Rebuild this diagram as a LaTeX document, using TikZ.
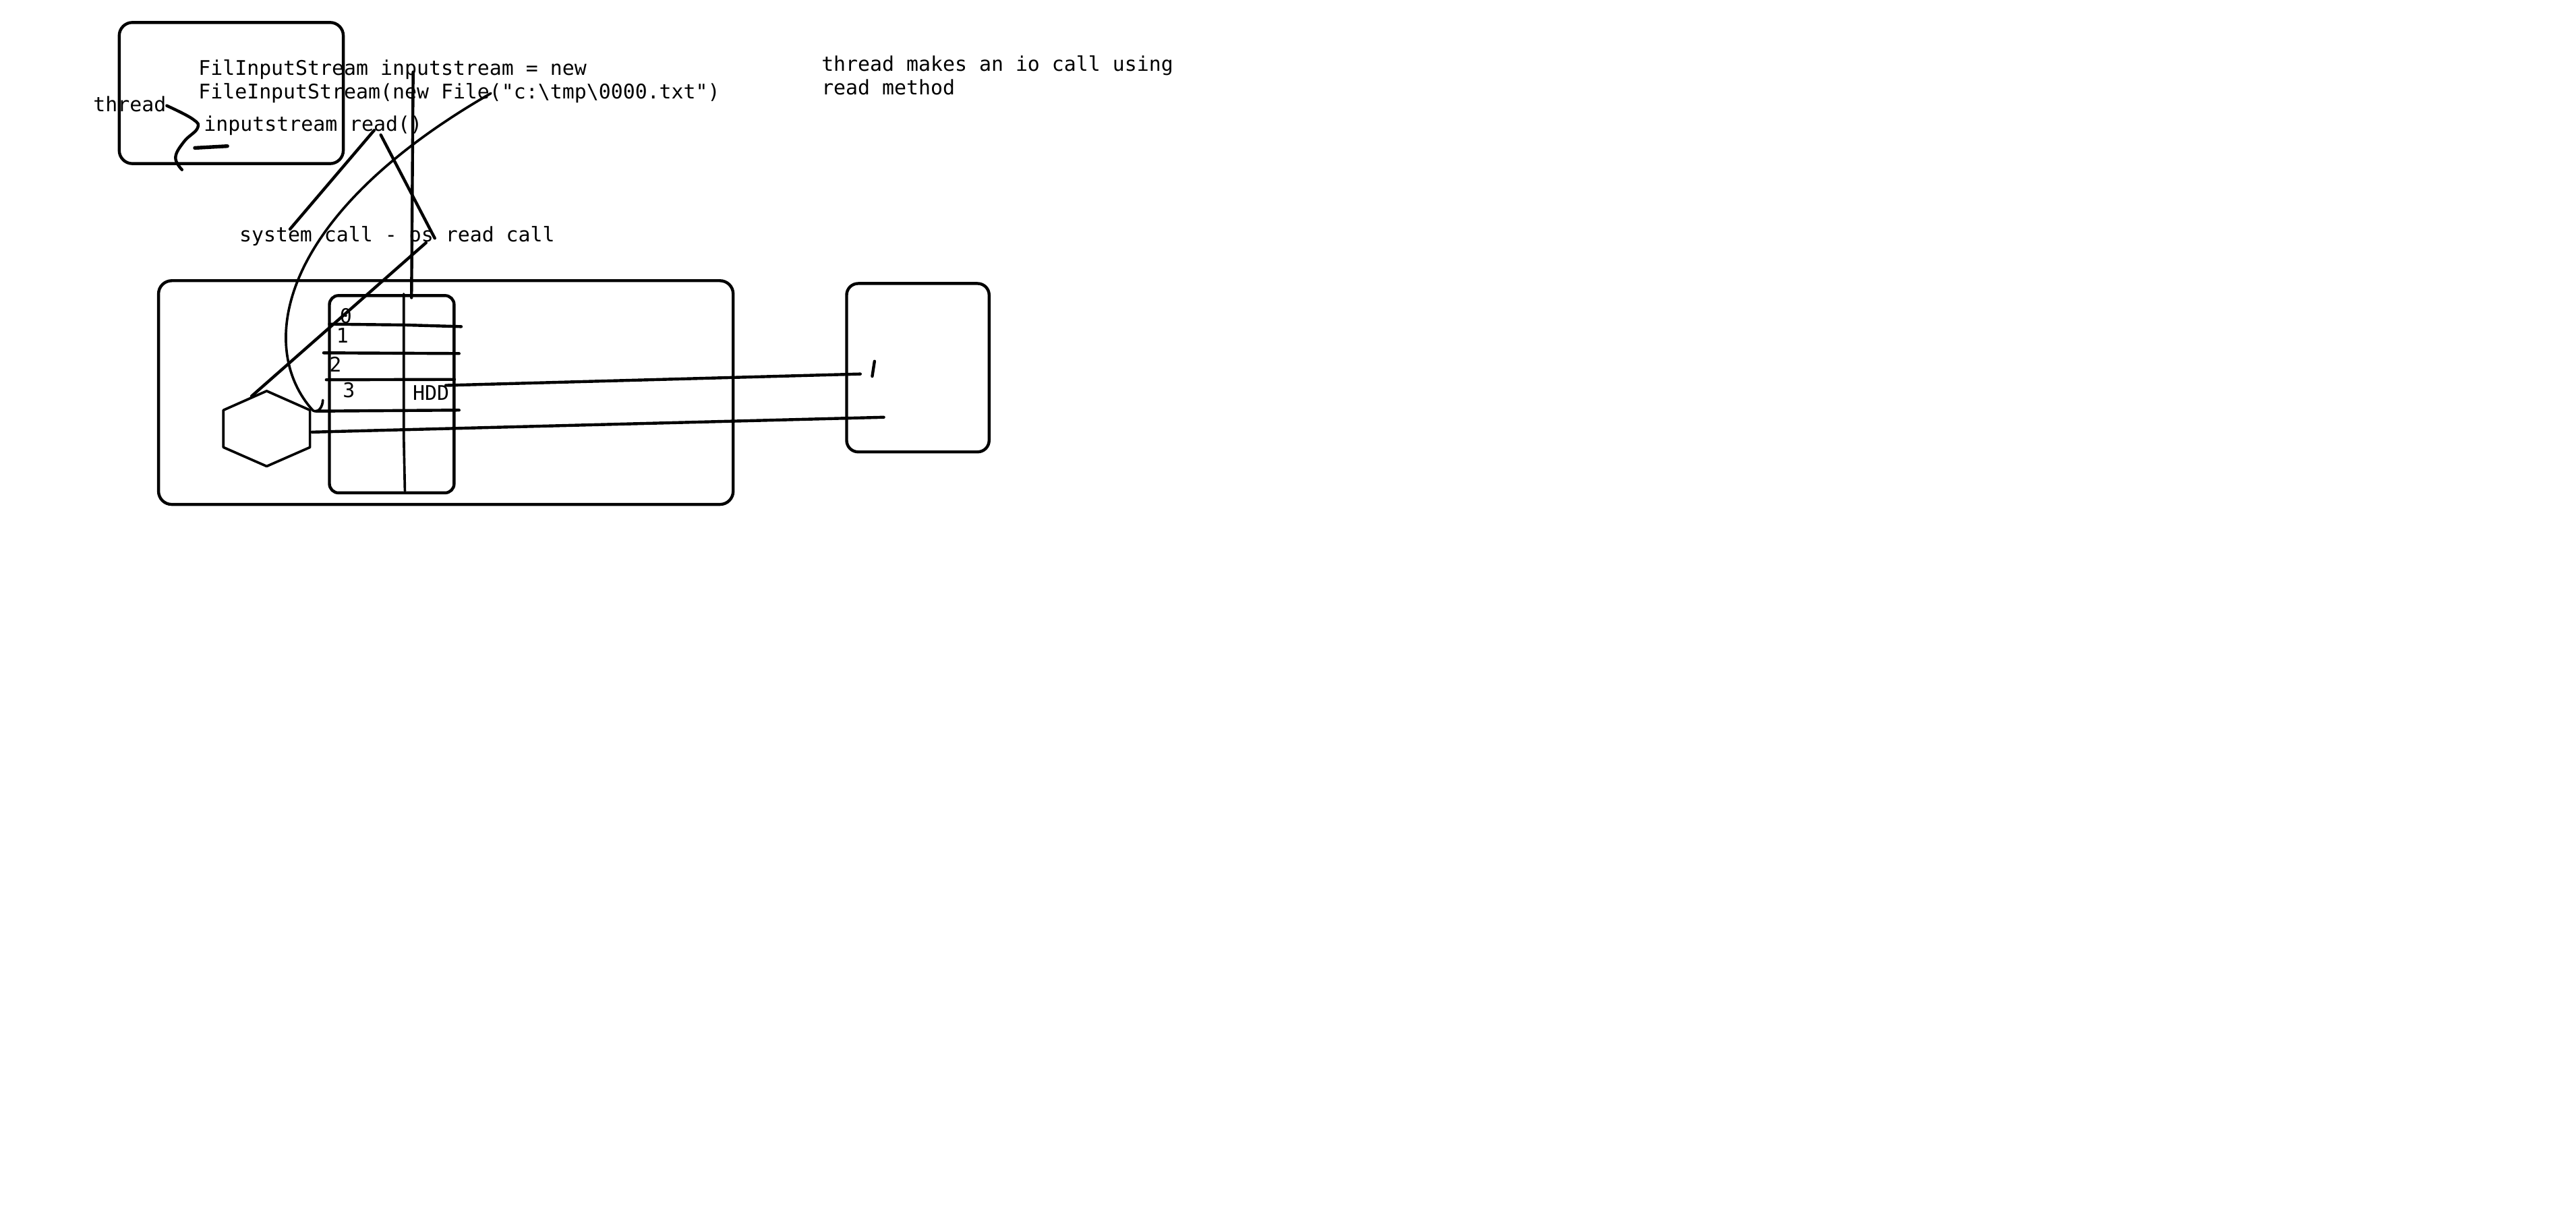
\documentclass[tikz,border=0pt]{standalone}
\usepackage{fontspec}
\newfontfamily\mono{DejaVu Sans Mono}
\begin{document}
\begin{tikzpicture}[x=1pt,y=-1pt,line cap=round,line join=round,
  stroke/.style={line width=1.8pt},
  fine/.style={line width=1.5pt},
  box/.style={draw,line width=1.8pt,inner sep=0pt},
  txt/.style={font=\mono\fontsize{12.2}{14.3}\selectfont,inner sep=0pt,anchor=base west}]
\useasboundingbox (0,0) rectangle (1560,733.44);

% boxes
\node[box,rounded corners=8pt,minimum width=135.7pt,minimum height=85.5pt] (threadbox) at (140.05,56.35) {};
\node[box,rounded corners=8pt,minimum width=348pt,minimum height=135.5pt] (process) at (270,237.75) {};
\node[box,rounded corners=5.5pt,minimum width=75.5pt,minimum height=119.5pt] (hdd) at (237.25,238.75) {};
\node[box,rounded corners=7pt,minimum width=86.3pt,minimum height=102pt] (device) at (555.85,222.7) {};

% texts
\node[txt] (thread) at (56.3,67.4) {thread};
\node[txt] (code1) at (120,45.6) {FilInputStream inputstream = new};
\node[txt] (code2) at (120,59.9) {FileInputStream(new File("c:\textbackslash tmp\textbackslash 0000.txt")};
\node[txt] (code3) at (123.3,79.6) {inputstream.read()};
\node[txt] (syscall) at (144.8,146.3) {system call - os read call};
\node[txt] (note1) at (497.3,43) {thread makes an io call using};
\node[txt] (note2) at (497.3,57.3) {read method};
\node[txt] (d0) at (205.6,196) {0};
\node[txt] (d1) at (203.5,207.6) {1};
\node[txt] (d2) at (199.2,225.3) {2};
\node[txt] (d3) at (207.4,240.9) {3};
\node[txt] (hddlbl) at (249.8,242.3) {HDD};

% hexagon (kernel / os)
\coordinate (h1) at (161.5,236.8);
\coordinate (h2) at (187.7,248.4);
\coordinate (h3) at (187.7,270.9);
\coordinate (h4) at (161.5,282.4);
\coordinate (h5) at (135.3,270.9);
\coordinate (h6) at (135.3,248.4);
\draw[fine] (h1) -- (h2) -- (h3) -- (h4) -- (h5) -- (h6) -- cycle;

% thread squiggle and dash
\draw[stroke] plot[smooth,tension=0.7] coordinates {(101,64) (116.7,72.1) (119.6,77.6) (111.5,85.7) (106.3,95.3) (110.2,102.8)};
\coordinate (dashA) at (118,89.6);
\coordinate (dashB) at (137.7,88.5);
\draw[line width=2.2pt] (dashA) -- (dashB);

% lines from read()
\coordinate (rA1) at (226.6,78.9);
\coordinate (rA2) at (175.6,138.8);
\coordinate (rB1) at (230.6,81.7);
\coordinate (rB2) at (263.3,144.3);
\draw[stroke] (rA1) -- (rA2);
\draw[stroke] (rB1) -- (rB2);

% vertical long line
\coordinate (vt) at (250.2,43.6);
\coordinate (vb) at (249.2,180.3);
\draw[stroke] (vt) -- (vb);

% diagonal to hexagon
\coordinate (dg1) at (258,147);
\coordinate (dg2) at (152.3,240);
\draw[stroke] (dg1) -- (dg2);

% big arc
\coordinate (arcA) at (297.3,56.5);
\coordinate (arcB) at (189.5,248.6);
\coordinate (arcC) at (195.5,242.3);
\draw[fine] (arcA) .. controls (166.8,131.5) and (155.5,211.1) .. (arcB)
  .. controls (192.5,250.5) and (195.5,246.5) .. (arcC);

% HDD rows
\draw[stroke] (199.5,196.3) -- (244.5,196.8) -- (279.3,197.8);
\draw[stroke] (196,213.7) -- (278,214.1);
\draw[stroke] (197.6,230) -- (275.2,229.8);
\draw[stroke] (191.5,249) -- (278,248.4);
\draw[fine] (244.5,178) -- (244.5,264) -- (245.2,297.3);

% long lines to device
\coordinate (ll1a) at (270,233.4);
\coordinate (ll1b) at (521,226.5);
\coordinate (ll2a) at (189,261.7);
\coordinate (ll2b) at (535.2,252.7);
\draw[stroke] (ll1a) -- (ll1b);
\draw[stroke] (ll2a) -- (ll2b);
\coordinate (tk1) at (529.6,218.8);
\coordinate (tk2) at (528.2,227.9);
\draw[stroke] (tk1) -- (tk2);
\end{tikzpicture}
\end{document}
